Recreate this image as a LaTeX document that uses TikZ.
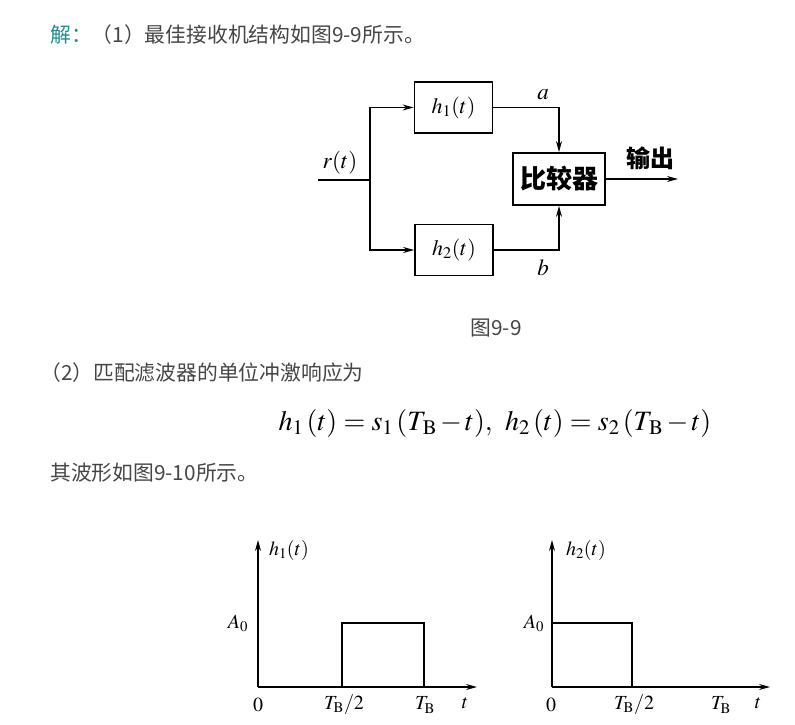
\documentclass[tikz,border=0pt]{standalone}
\usepackage{mathptmx}
\usepackage{fontspec}
\newfontfamily\cjk{Noto Sans CJK SC}
\usetikzlibrary{arrows.meta,positioning}
\definecolor{answer}{HTML}{1E8C8C}
\definecolor{bodygray}{HTML}{454545}

\begin{document}
\begin{tikzpicture}[
 x=1pt,y=-1pt,
 block/.style={draw,line width=1.8pt,minimum width=78pt,minimum height=51pt,inner sep=0pt,font=\fontsize{22}{26}\selectfont},
 arrow/.style={-{Stealth[length=11pt,width=6pt]},line width=1.4pt},
 axis/.style={-{Stealth[length=11pt,width=6pt]},line width=1.2pt},
 signal/.style={line width=2pt},
 body/.style={anchor=west,inner sep=0pt,text=bodygray,font=\cjk\fontsize{20.8}{24}\selectfont},
 lab/.style={inner sep=0pt,font=\fontsize{20}{24}\selectfont}
]
\useasboundingbox (0,0) rectangle (795,725);
% text lines
\node[body] (line1) at (50,35) {\textcolor{answer}{解：}（1）最佳接收机结构如图9-9所示。};
\node[body] (line2) at (40,373) {（2）匹配滤波器的单位冲激响应为};
\node[inner sep=0pt,font=\fontsize{28}{32}\selectfont] (eq) at (495,423)
 {$h_1\,(t)=s_1\,(T_{\kern2pt\mathrm B}\,{-}\,t),\;\, h_2\,(t)=s_2\,(T_{\kern2pt\mathrm B}\,{-}\,t)$};
\node[body] (line3) at (50,473) {其波形如图9-10所示。};
\node[body,anchor=center] (cap) at (496,328) {图9-9};
% block diagram
\node[block] (h1) at (453.5,107.5) {$h_1(t)$};
\node[block] (h2) at (454,250) {$h_2(t)$};
\node[block,minimum width=92pt,minimum height=52pt,font=\cjk\bfseries\fontsize{26}{30}\selectfont] (cmp) at (559,179) {比较器};
\coordinate (in) at (318,180);
\coordinate (split) at (370,180);
\coordinate (out) at (678,179);
\draw[line width=1.4pt] (in) -- (split);
\draw[arrow] (split) |- (h1.west);
\draw[arrow] (split) |- (h2.west);
\draw[arrow] (h1.east) -| (cmp.north);
\draw[arrow] (h2.east) -| (cmp.south);
\draw[arrow] (cmp.east) -- (out);
\node[lab,font=\fontsize{23}{26}\selectfont] (rt) at (340,163) {$r(t)$};
\node[lab,font=\fontsize{23}{26}\selectfont] (la) at (543,95) {$a$};
\node[lab,font=\fontsize{23}{26}\selectfont] (lb) at (543,268) {$b$};
\node[lab,font=\cjk\bfseries\fontsize{24}{28}\selectfont] (outl) at (650,158) {输出};
% waveform h1
\coordinate (o1) at (258,687);
\draw[axis] (o1) -- (258,540) coordinate (y1);
\draw[axis] (o1) -- (477,687) coordinate (x1);
\draw[signal] (o1) -- (342,687) -- (342,623) -- (424,623) -- (424,687);
\node[lab] at (289,550) {$h_1(t)$};
\node[lab] at (238,623) {$A_0$};
\node[lab] at (258,705) {$0$};
\node[lab] at (344,705) {$T_{\mathrm B}/2$};
\node[lab] at (425,705) {$T_{\mathrm B}$};
\node[lab] at (465,703) {$t$};
% waveform h2
\coordinate (o2) at (552,687);
\draw[axis] (o2) -- (552,540) coordinate (y2);
\draw[axis] (o2) -- (770,687) coordinate (x2);
\draw[signal] (552,687) -- (552,623) -- (632,623) -- (632,687) -- (722,687);
\node[lab] at (586,550) {$h_2(t)$};
\node[lab] at (534,623) {$A_0$};
\node[lab] at (551,705) {$0$};
\node[lab] at (634,705) {$T_{\mathrm B}/2$};
\node[lab] at (721,705) {$T_{\mathrm B}$};
\node[lab] at (758,703) {$t$};
\end{tikzpicture}
\end{document}
